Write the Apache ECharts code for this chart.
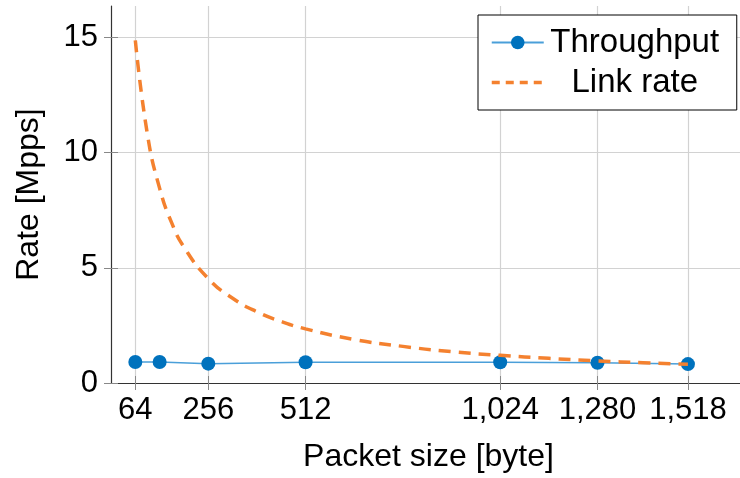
<!DOCTYPE html>
<html lang="en">
<head>
    <meta charset="UTF-8">
    <title>Packet rate</title>
    <script src="https://cdn.jsdelivr.net/npm/echarts@6/dist/echarts.min.js"></script>
    <style>
        html, body { margin: 0; padding: 0; background: #fff; }
    </style>
</head>
<body>
    <div id="main" style="width: 740px;height:478px;"></div>
    <script type="text/javascript">
        // data
        var xTicks = [64, 256, 512, 1024, 1280, 1518];
        var yTicks = [0, 5, 10, 15];

        var throughputSize = [64, 128, 256, 512, 1024, 1280, 1518];
        var throughputRate = [0.91, 0.91, 0.84, 0.90, 0.90, 0.88, 0.82];

        var linkSize = [64, 96, 128, 160, 192, 256, 320, 384, 448, 512, 640, 768, 896, 1024, 1152, 1280, 1400, 1518];
        var linkRate = [14.88, 10.78, 8.45, 6.94, 5.90, 4.53, 3.68, 3.09, 2.67, 2.35, 1.89, 1.59, 1.36, 1.20, 1.07, 0.96, 0.88, 0.81];

        function pairs(xs, ys) {
            return xs.map(function (x, i) { return [x, ys[i]]; });
        }

        var font = 'Liberation Sans';
        var frameColor = '#333';
        var tickStyle = { show: true, inside: true, length: 7, lineStyle: { color: '#888', width: 1 } };

        var myChart = echarts.init(document.getElementById('main'));

        var option = {
            animation: false,
            // the plot box is cut off at the right edge of the picture
            grid: { left: 111, top: 6, right: 0, bottom: 93, containLabel: false },
            legend: {
                orient: 'vertical',
                left: 478,
                top: 15,
                padding: [11, 16, 11, 12],
                itemGap: 7,
                itemWidth: 52,
                itemHeight: 17,
                borderColor: '#000',
                borderWidth: 1,
                backgroundColor: '#fff',
                formatter: function (name) { return '{c|' + name + '}'; },
                textStyle: {
                    fontFamily: font,
                    fontSize: 33,
                    color: '#000',
                    rich: { c: { width: 172, align: 'center', fontSize: 33, lineHeight: 32, fontFamily: font, color: '#000' } }
                },
                data: [
                    'Throughput',
                    { name: 'Link rate', itemStyle: { opacity: 0 }, lineStyle: { type: [8, 6], width: 3.5 } }
                ]
            },
            xAxis: [
                {
                    type: 'value',
                    min: 0,
                    max: 1655,
                    name: 'Packet size [byte]',
                    nameLocation: 'middle',
                    nameGap: 58,
                    nameTextStyle: { fontFamily: font, fontSize: 32, color: '#000', padding: [0, 0, 0, 6] },
                    axisLine: { show: true, lineStyle: { color: frameColor, width: 1.2 } },
                    axisTick: Object.assign({ customValues: xTicks }, tickStyle),
                    axisLabel: {
                        customValues: xTicks,
                        margin: 12,
                        fontFamily: font,
                        fontSize: 31,
                        color: '#000',
                        formatter: function (v) { return v.toLocaleString('en-US'); }
                    },
                    splitLine: { show: true, lineStyle: { color: '#d2d2d2', width: 1.2 } }
                },
                {
                    type: 'value',
                    position: 'top',
                    min: 0,
                    max: 1655,
                    axisLine: { show: true, lineStyle: { color: frameColor, width: 1.2 } },
                    axisTick: Object.assign({ customValues: xTicks }, tickStyle),
                    axisLabel: { show: false },
                    splitLine: { show: false }
                }
            ],
            yAxis: [
                {
                    type: 'value',
                    min: 0,
                    max: 16.37,
                    name: 'Rate [Mpps]',
                    nameLocation: 'middle',
                    nameGap: 66,
                    nameTextStyle: { fontFamily: font, fontSize: 32, color: '#000' },
                    axisLine: { show: true, lineStyle: { color: frameColor, width: 1.2 } },
                    axisTick: Object.assign({ customValues: yTicks }, tickStyle),
                    axisLabel: {
                        customValues: yTicks,
                        margin: 13,
                        fontFamily: font,
                        fontSize: 31,
                        color: '#000'
                    },
                    splitLine: { show: true, lineStyle: { color: '#d2d2d2', width: 1.2 } }
                },
                {
                    type: 'value',
                    position: 'right',
                    min: 0,
                    max: 16.37,
                    axisLine: { show: false },
                    axisTick: Object.assign({ customValues: yTicks }, tickStyle),
                    axisLabel: { show: false },
                    splitLine: { show: false }
                }
            ],
            series: [
                {
                    name: 'Throughput',
                    type: 'line',
                    data: pairs(throughputSize, throughputRate),
                    symbol: 'circle',
                    symbolSize: 14,
                    lineStyle: { color: '#4a9fd9', width: 1.5 },
                    itemStyle: { color: '#0072bd' },
                    z: 3
                },
                {
                    name: 'Link rate',
                    type: 'line',
                    data: pairs(linkSize, linkRate),
                    smooth: true,
                    showSymbol: false,
                    symbol: 'none',
                    lineStyle: { color: '#f4812f', width: 3.5, type: [12, 8] },
                    itemStyle: { color: '#f4812f' },
                    z: 4
                }
            ]
        };

        myChart.setOption(option);
    </script>
</body>
</html>
